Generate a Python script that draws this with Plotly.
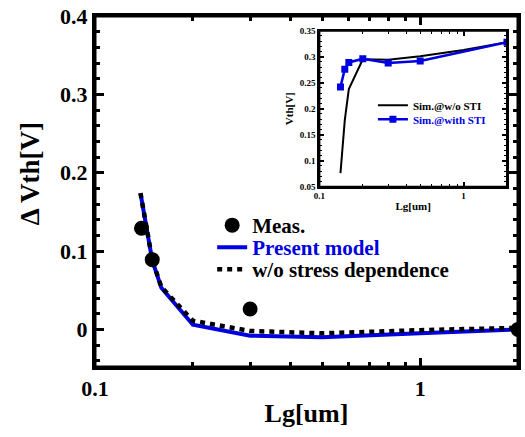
import plotly.graph_objects as go
import numpy as np

# ---- main chart data ----
meas_lg = [0.139, 0.15, 0.30, 2.0]
meas_dvth = [0.129, 0.089, 0.026, 0.0]

model_lg = [0.138, 0.15, 0.16, 0.20, 0.30, 0.50, 1.0, 2.0]
model_dvth = [0.174, 0.088, 0.053, 0.006, -0.008, -0.010, -0.005, 0.0]

nostress_lg = [0.138, 0.15, 0.16, 0.20, 0.30, 0.50, 1.0, 2.0]
nostress_dvth = [0.174, 0.089, 0.054, 0.011, -0.002, -0.005, -0.001, 0.002]

# ---- inset data ----
wo_sti_lg = [0.14, 0.15, 0.16, 0.20, 0.30, 0.50, 1.0, 2.0]
wo_sti_vth = [0.076, 0.178, 0.238, 0.295, 0.294, 0.301, 0.313, 0.328]

with_sti_lg = [0.14, 0.15, 0.16, 0.20, 0.30, 0.50, 2.0]
with_sti_vth = [0.242, 0.276, 0.289, 0.296, 0.288, 0.292, 0.328]

main_yticks = [0, 0.1, 0.2, 0.3, 0.4]
main_yticklabels = ["0", "0.1", "0.2", "0.3", "0.4"]
main_xticks = [0.1, 1]
main_xticklabels = ["0.1", "1"]
inset_yticks = [0.05, 0.1, 0.15, 0.2, 0.25, 0.3, 0.35]
inset_yticklabels = ["0.05", "0.1", "0.15", "0.2", "0.25", "0.3", "0.35"]
minor_log = [0.2, 0.3, 0.4, 0.5, 0.6, 0.7, 0.8, 0.9, 2]

FONT = "Liberation Serif"
BLUE = "#0000E0"

fig = go.Figure()

fig.add_trace(go.Scatter(
    x=model_lg, y=model_dvth, mode="lines",
    line=dict(color=BLUE, width=4),
    name="<span style='color:#0000E0'>Present model</span>",
    legend="legend2", xaxis="x", yaxis="y"))
fig.add_trace(go.Scatter(
    x=nostress_lg, y=nostress_dvth, mode="lines",
    line=dict(color="black", width=4.5, dash="5px,5px"),
    name="w/o stress dependence", legend="legend3", xaxis="x", yaxis="y"))
fig.add_trace(go.Scatter(
    x=meas_lg, y=meas_dvth, mode="markers",
    marker=dict(color="black", size=15, symbol="circle"),
    name="Meas.", legend="legend", xaxis="x", yaxis="y"))

fig.add_trace(go.Scatter(
    x=wo_sti_lg, y=wo_sti_vth, mode="lines",
    line=dict(color="black", width=2),
    name="Sim.@w/o STI", legend="legend4", xaxis="x2", yaxis="y2"))
fig.add_trace(go.Scatter(
    x=with_sti_lg, y=with_sti_vth, mode="lines+markers",
    line=dict(color=BLUE, width=2.5),
    marker=dict(color=BLUE, size=7, symbol="square"),
    name="<span style='color:#0000E0'>Sim.@with STI</span>",
    legend="legend5", xaxis="x2", yaxis="y2"))

axis_common = dict(showline=True, linecolor="black", mirror="allticks",
                   ticks="inside", tickcolor="black", showgrid=False,
                   zeroline=False)


def leg(x, y, size):
    return dict(x=x, y=y, xanchor="left", yanchor="top",
                bgcolor="rgba(0,0,0,0)", borderwidth=0,
                font=dict(size=size, family=FONT, weight="bold"),
                tracegroupgap=0, itemwidth=30)


fig.update_layout(
    width=525, height=437,
    margin=dict(l=95, r=4, t=16, b=70),
    paper_bgcolor="white", plot_bgcolor="white",
    font=dict(family=FONT, color="black"),
    xaxis=dict(type="log", range=[-1, np.log10(2)], domain=[0, 1],
               tickvals=main_xticks, ticktext=main_xticklabels,
               ticklen=9, tickwidth=2.5, linewidth=3,
               minor=dict(ticks="inside", ticklen=5, tickwidth=2.5,
                          tickcolor="black", tickvals=minor_log),
               tickfont=dict(size=22, family=FONT, weight="bold"),
               title=dict(text="<b>Lg[um]</b>", font=dict(size=26, family=FONT),
                          standoff=4),
               **axis_common),
    yaxis=dict(range=[-0.048, 0.4], domain=[0, 1],
               tickvals=main_yticks, ticktext=main_yticklabels,
               ticklen=9, tickwidth=2.5, linewidth=3,
               minor=dict(ticks="inside", ticklen=5, tickwidth=2.5,
                          tickcolor="black", dtick=0.02, tick0=0),
               tickfont=dict(size=22, family=FONT, weight="bold"),
               **axis_common),
    xaxis2=dict(type="log", range=[-1, np.log10(2)], domain=[0.5305, 0.974],
                anchor="y2", tickvals=main_xticks, ticktext=main_xticklabels,
                ticklen=5, tickwidth=1.5, linewidth=2,
                minor=dict(ticks="inside", ticklen=3, tickwidth=1.2,
                           tickcolor="black", tickvals=minor_log),
                tickfont=dict(size=9, family=FONT, weight="bold"),
                title=dict(text="<b>Lg[um]</b>", font=dict(size=11, family=FONT),
                           standoff=2),
                **axis_common),
    yaxis2=dict(range=[0.05, 0.35], domain=[0.5137, 0.958], anchor="x2",
                tickvals=inset_yticks, ticktext=inset_yticklabels,
                ticklen=5, tickwidth=1.5, linewidth=2,
                minor=dict(ticks="inside", ticklen=3, tickwidth=1.2,
                           tickcolor="black", dtick=0.01, tick0=0),
                tickfont=dict(size=9, family=FONT, weight="bold"),
                title=dict(text="<b>Vth[V]</b>", font=dict(size=11, family=FONT),
                           standoff=4),
                **axis_common),
    legend=leg(0.277, 0.4615, 21),
    legend2=leg(0.277, 0.3989, 21),
    legend3=leg(0.277, 0.3362, 21),
    legend4=leg(0.657, 0.787, 11),
    legend5=leg(0.657, 0.747, 11),
    showlegend=True,
    annotations=[dict(text="<b>\u0394 Vth[V]</b>", textangle=-90,
                      xref="paper", yref="paper", x=-0.153, y=0.55,
                      xanchor="center", yanchor="middle", showarrow=False,
                      font=dict(size=27, family=FONT, color="black"))],
    shapes=[
        dict(type="rect", xref="x domain", yref="y domain", x0=0, x1=1, y0=0, y1=1,
             line=dict(color="black", width=3), layer="above"),
        dict(type="rect", xref="x2 domain", yref="y2 domain", x0=0, x1=1, y0=0, y1=1,
             line=dict(color="black", width=2), layer="above"),
    ],
)

fig.write_html("out.html")
